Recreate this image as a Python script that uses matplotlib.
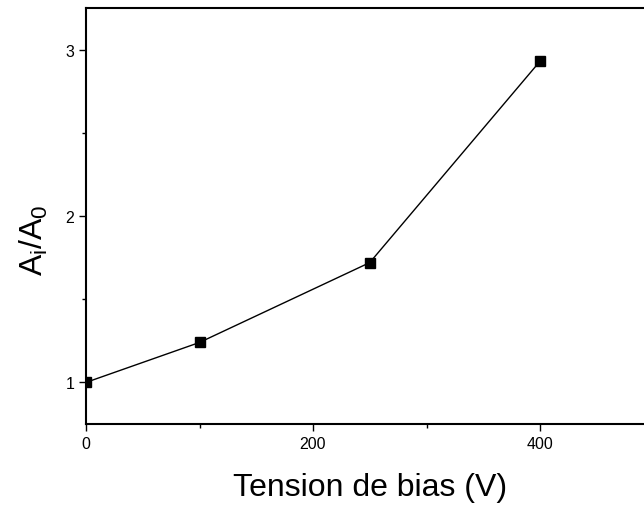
import matplotlib.pyplot as plt
from matplotlib.ticker import MultipleLocator

plt.rcParams['font.family'] = ['Liberation Sans', 'DejaVu Sans']
plt.rcParams['mathtext.fontset'] = 'custom'
plt.rcParams['mathtext.rm'] = 'Liberation Sans'
plt.rcParams['mathtext.it'] = 'Liberation Sans'

bias = [0, 100, 250, 400]
ratio = [1.0, 1.24, 1.72, 2.93]

fig = plt.figure(figsize=(6.44, 5.10), dpi=100)
ax = fig.add_axes([86 / 644, 85 / 510, 567.5 / 644, 416 / 510])

ax.plot(bias, ratio, color='black', lw=1, marker='s', ms=7)

ax.set_xlim(0, 500)
ax.set_ylim(0.75, 3.25)
ax.xaxis.set_major_locator(MultipleLocator(200))
ax.xaxis.set_minor_locator(MultipleLocator(100))
ax.yaxis.set_major_locator(MultipleLocator(1))
ax.yaxis.set_minor_locator(MultipleLocator(0.5))
ax.tick_params(which='both', direction='out', width=1, labelsize=11.5)
ax.tick_params(which='major', length=5)
ax.tick_params(which='minor', length=3)
for s in ax.spines.values():
    s.set_linewidth(1.5)

ax.set_xlabel('Tension de bias (V)', fontsize=23, labelpad=15)
ax.set_ylabel(r'A$_\mathrm{i}$/A$_\mathrm{0}$', fontsize=23)
ax.yaxis.set_label_coords(-0.063, 0.445)

fig.savefig('out.png', dpi=100)
